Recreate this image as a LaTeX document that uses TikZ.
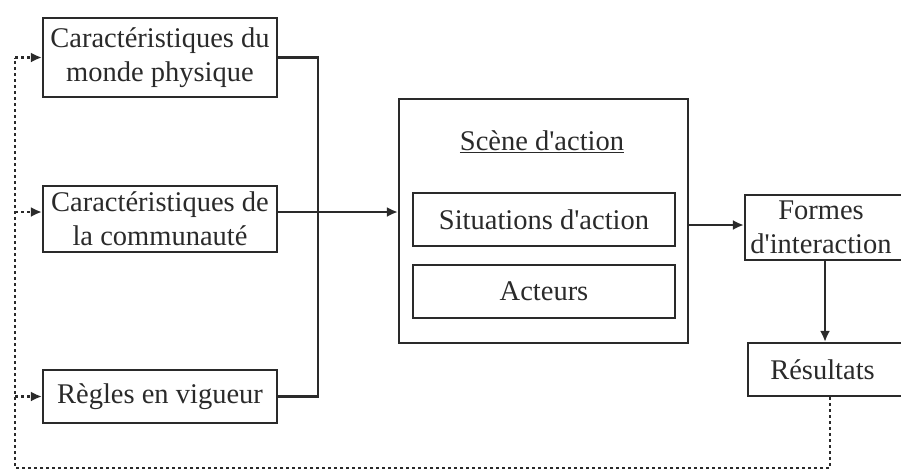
\documentclass[tikz,border=0pt]{standalone}
\usepackage{fontspec}
\setmainfont{Liberation Serif}
\usetikzlibrary{arrows.meta,calc}
\definecolor{ink}{HTML}{2A2A2A}
\newcommand{\apos}{\textquotesingle}
\tikzset{
  box/.style={draw=ink, line width=2.2pt, align=center, inner sep=0pt, text=ink,
    font=\fontsize{28.5}{34}\selectfont},
  conn/.style={draw=ink, line width=2.2pt},
  arr/.style={conn, -{Latex[length=11pt,width=10pt]}},
  fb/.style={draw=ink, line width=2.2pt, dash pattern=on 3pt off 3pt},
  fbarr/.style={fb, -{Latex[length=11pt,width=10pt]}}
}
\begin{document}
\begin{tikzpicture}[x=1pt,y=-1pt]
\useasboundingbox[fill=white] (0,0) rectangle (901,472);
% left boxes
\node[box, minimum width=234pt, minimum height=79pt] (b1) at (160,57.5)
  {Caractéristiques du\\monde physique};
\node[box, minimum width=234pt, minimum height=66pt] (b2) at (160,219)
  {Caractéristiques de\\la communauté};
\node[box, minimum width=234pt, minimum height=53pt] (b3) at (160,396.5)
  {Règles en vigueur};
% action scene
\node[box, minimum width=289pt, minimum height=244pt] (scene) at (543.5,221) {};
\node[text=ink, font=\fontsize{28.5}{34}\selectfont, inner sep=0pt] (title) at (542,142)
  {\underline{Scène d\apos action}};
\node[box, minimum width=262pt, minimum height=53pt] (sit) at (544,219.5)
  {Situations d\apos action};
\node[box, minimum width=262pt, minimum height=53pt] (act) at (544,291.5)
  {Acteurs};
% right boxes
\node[box, minimum width=158pt, minimum height=65pt] (formes) at (824,227.5)
  {\hspace*{-6pt}Formes\\\hspace*{-6pt}d\apos interaction};
\node[box, minimum width=155pt, minimum height=53pt] (res) at (825.5,369.5)
  {\hspace*{-6pt}Résultats};
% bus coordinates
\coordinate (bus1) at (318,57.5);
\coordinate (bus3) at (318,396.5);
\coordinate (in2) at ([yshift=7pt]b2.east);
\draw[conn] (b1.east) -- (bus1) -- (bus3) -- (b3.east);
\draw[arr] (in2) -- (in2 -| scene.west);
\coordinate (outS) at ([yshift=-4pt]scene.east);
\draw[arr] (outS) -- (outS -| formes.west);
\draw[arr] (formes.south -| 825,0) -- (res.north -| 825,0);
% feedback loop
\coordinate (fbR) at (830,468);
\coordinate (fbL) at (15,468);
\coordinate (fbT) at (15,57.5);
\draw[fb] (res.south -| fbR) -- (fbR) -- (fbL) -- (fbT);
\draw[fbarr] (fbT) -- (b1.west);
\draw[fbarr] (fbL |- in2) -- (in2 -| b2.west);
\draw[fbarr] (fbL |- b3.west) -- (b3.west);
\end{tikzpicture}
\end{document}
